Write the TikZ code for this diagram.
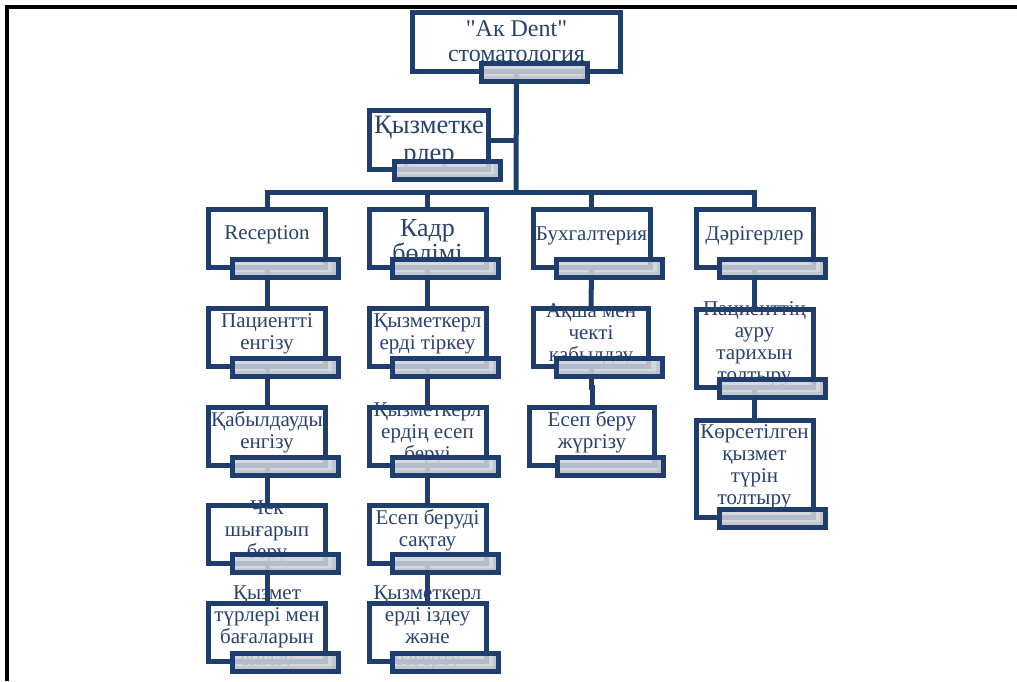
\documentclass[tikz,border=0pt]{standalone}
\usepackage{fontspec}
\setmainfont{Liberation Serif}
\usetikzlibrary{calc,backgrounds}

\definecolor{orgline}{RGB}{31,62,110}
\definecolor{orgtext}{RGB}{40,66,112}
\definecolor{tabgray}{RGB}{206,209,217}
\definecolor{tabshade}{RGB}{184,190,202}

\begin{document}
\begin{tikzpicture}[x=1pt, y=-1pt,
    orgbox/.style={draw=orgline, line width=5pt, fill=white, inner sep=0pt,
      minimum width=117pt, minimum height=58pt},
    orgtab/.style={draw=orgline, line width=5pt, fill=tabgray, fill opacity=0.86,
      inner sep=0pt, minimum width=106pt, minimum height=18pt,
      path picture={\fill[tabshade, fill opacity=0.6]
        ([yshift=5pt]path picture bounding box.south west) rectangle
        (path picture bounding box.south east);
        \fill[tabshade, fill opacity=0.6]
        ([xshift=-6pt]path picture bounding box.north east) rectangle
        (path picture bounding box.south east);}},
    orgtxt/.style={text=orgtext, align=center, inner sep=0pt,
      font=\fontsize{21}{22}\selectfont},
    orglink/.style={draw=orgline, line width=5pt}]
  \useasboundingbox (0,0) rectangle (1017,681);

  % frame of the page
  \draw[line width=3.5pt] (7,681) -- (7,7) -- (1017,7);

  \coordinate (bus) at (516,192);

  % boxes
  \node[orgbox, minimum width=208pt, minimum height=59pt] (top) at (516.5,42) {};
  \node[orgbox, minimum width=119pt, minimum height=59pt] (staff) at (429,140) {};

  \node[orgbox] (rec) at (267,238.5) {};
  \node[orgbox] (kadr) at (427.5,238.5) {};
  \node[orgbox] (buh) at (591.5,238.5) {};
  \node[orgbox] (dor) at (754.5,238.5) {};

  \node[orgbox] (pac) at (267,337.5) {};
  \node[orgbox] (tirkeu) at (427.5,337.5) {};
  \node[orgbox, minimum width=115pt] (aqsha) at (591,337.5) {};
  \node[orgbox, minimum height=78pt] (auru) at (754.5,348.5) {};

  \node[orgbox] (kabyl) at (267,436.5) {};
  \node[orgbox] (esep) at (427.5,436.5) {};
  \node[orgbox, minimum width=125pt] (zhurgizu) at (592,436.5) {};
  \node[orgbox, minimum height=97pt] (korset) at (754.5,469) {};

  \node[orgbox] (chek) at (267,534) {};
  \node[orgbox] (saktau) at (427.5,534) {};

  \node[orgbox] (baga) at (267,632.5) {};
  \node[orgbox] (izdeu) at (427.5,632.5) {};

  % texts
  \node[orgtxt, font=\fontsize{24}{25}\selectfont] (top-t) at ($(top.center)+(0,-1)$)
    {\textquotedbl Ак Dent\textquotedbl\\стоматология};
  \node[orgtxt, font=\fontsize{26.5}{28}\selectfont] (staff-t) at ($(staff.center)+(0,2)$)
    {Қызметке\\рлер};
  \node[orgtxt] (rec-t) at ($(rec.center)+(0,-4)$) {Reception};
  \node[orgtxt, font=\fontsize{26}{23}\selectfont] (kadr-t) at ($(kadr.center)+(0,2)$)
    {Кадр\\бөлімі};
  \node[orgtxt] (buh-t) at ($(buh.center)+(0,-3)$) {Бухгалтерия};
  \node[orgtxt] (dor-t) at ($(dor.center)+(0,-3)$) {Дәрігерлер};

  \node[orgtxt] (pac-t) at ($(pac.center)+(0,-4)$) {Пациентті\\енгізу};
  \node[orgtxt] (tirkeu-t) at ($(tirkeu.center)+(0,-4)$) {Қызметкерл\\ерді тіркеу};
  \node[orgtxt] (aqsha-t) at ($(aqsha.center)+(0,-3)$) {Ақша мен\\чекті\\қабылдау};
  \node[orgtxt] (auru-t) at ($(auru.center)+(0,-5)$) {Пациенттің\\ауру\\тарихын\\толтыру};

  \node[orgtxt] (kabyl-t) at ($(kabyl.center)+(0,-4)$) {Қабылдауды\\енгізу};
  \node[orgtxt] (esep-t) at ($(esep.center)+(0,-3)$) {Қызметкерл\\ердің есеп\\беруі};
  \node[orgtxt] (zhurgizu-t) at ($(zhurgizu.center)+(0,-4)$) {Есеп беру\\жүргізу};
  \node[orgtxt] (korset-t) at ($(korset.center)+(0,-2)$) {Көрсетілген\\қызмет\\түрін\\толтыру};

  \node[orgtxt] (chek-t) at ($(chek.center)+(0,-2)$) {Чек\\шығарып\\беру};
  \node[orgtxt] (saktau-t) at ($(saktau.center)+(0,-4)$) {Есеп беруді\\сақтау};

  \node[orgtxt] (baga-t) at ($(baga.center)+(0,-5)$) {Қызмет\\түрлері мен\\бағаларын\\енгізу};
  \node[orgtxt] (izdeu-t) at ($(izdeu.center)+(0,-5)$) {Қызметкерл\\ерді іздеу\\және\\өзгерту};

  % grey tabs over the lower edge
  \foreach \b in {top, staff, rec, kadr, buh, dor, pac, tirkeu, aqsha, auru,
      kabyl, esep, zhurgizu, korset, chek, saktau, baga, izdeu}
    \node[orgtab] (\b-tab) at ($(\b.south)+(18,-2)$) {};

  % connectors
  \begin{scope}[on background layer]
    \draw[orglink] (top.south) -- (bus);
    \draw[orglink] (staff.east) -- (staff.east -| bus);
    \draw[orglink] (rec.north) |- (bus) -| (dor.north);
    \draw[orglink] (kadr.north) -- (kadr.north |- bus);
    \draw[orglink] (buh.north) -- (buh.north |- bus);

    \draw[orglink] (rec) -- (pac) -- (kabyl) -- (chek) -- (baga);
    \draw[orglink] (kadr) -- (tirkeu) -- (esep) -- (saktau) -- (izdeu);
    \draw[orglink] (buh.center) -- (aqsha.center);
    \draw[orglink] (aqsha.center) -- ++(0,50) -| (zhurgizu.center);
    \draw[orglink] (dor) -- (auru) -- (korset);
  \end{scope}
\end{tikzpicture}
\end{document}
